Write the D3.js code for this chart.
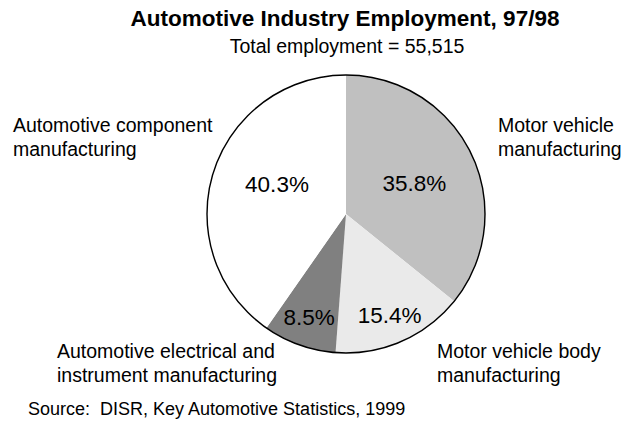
<!DOCTYPE html>
<html>
<head>
<meta charset="utf-8">
<script src="https://cdnjs.cloudflare.com/ajax/libs/d3/7.8.5/d3.min.js"></script>
<style>
  body { margin: 0; background: #fff; }
  text { font-family: "Liberation Sans", Arial, sans-serif; fill: #000; }
</style>
</head>
<body>
<div id="chart"></div>
<script>
var categories = ["Motor vehicle manufacturing", "Motor vehicle body manufacturing",
                  "Automotive electrical and instrument manufacturing", "Automotive component manufacturing"];
var shares = [35.8, 15.4, 8.5, 40.3];
var sliceColors = ["#c0c0c0", "#eaeaea", "#808080", "#ffffff"];
var labelLines = [["Motor vehicle", "manufacturing"], ["Motor vehicle body", "manufacturing"],
                  ["Automotive electrical and", "instrument manufacturing"], ["Automotive component", "manufacturing"]];

var width = 624, height = 424;
var cx = 346, cy = 214, radius = 139;

var svg = d3.select("#chart").append("svg")
  .attr("width", width).attr("height", height);

svg.append("text").attr("x", 345).attr("y", 26)
  .attr("text-anchor", "middle").attr("font-size", "22.5px").attr("font-weight", "bold")
  .text("Automotive Industry Employment, 97/98");
svg.append("text").attr("x", 347).attr("y", 53)
  .attr("text-anchor", "middle").attr("font-size", "19.5px")
  .text("Total employment = 55,515");

var pie = d3.pie().value(function(d) { return d; }).sort(null);
var arc = d3.arc().innerRadius(0).outerRadius(radius);

var g = svg.append("g").attr("transform", "translate(" + cx + "," + cy + ")");

var slices = g.selectAll(".arc").data(pie(shares)).enter().append("g").attr("class", "arc");
slices.append("path")
  .attr("d", arc)
  .attr("fill", function(d, i) { return sliceColors[i]; })
  .attr("stroke", "none");

g.append("circle").attr("r", radius).attr("fill", "none")
  .attr("stroke", "#000").attr("stroke-width", 1.4);

// percentage labels, big slices closer to centre
slices.append("text")
  .attr("transform", function(d) {
    var r = d.value > 30 ? radius * 0.54 : radius * 0.79;
    var a = (d.startAngle + d.endAngle) / 2;
    if (d.value > 30) a = a + (a > Math.PI ? 0.1 : 0.02);
    return "translate(" + (Math.sin(a) * r) + "," + (-Math.cos(a) * r) + ")";
  })
  .attr("dy", "0.35em")
  .attr("text-anchor", "middle")
  .attr("font-size", "22.5px")
  .text(function(d) { return d.value.toFixed(1) + "%"; });

// category labels outside the pie
var labelPos = [[498, 132], [437, 358], [57, 358], [13, 132]];
labelLines.forEach(function(lines, i) {
  var t = svg.append("text").attr("x", labelPos[i][0]).attr("y", labelPos[i][1])
    .attr("font-size", "19.5px");
  lines.forEach(function(l, j) {
    t.append("tspan").attr("x", labelPos[i][0]).attr("dy", j === 0 ? 0 : 23.5).text(l);
  });
});

svg.append("text").attr("x", 28).attr("y", 415).attr("font-size", "18px")
  .attr("xml:space", "preserve")
  .text("Source:  DISR, Key Automotive Statistics, 1999");
</script>
</body>
</html>
